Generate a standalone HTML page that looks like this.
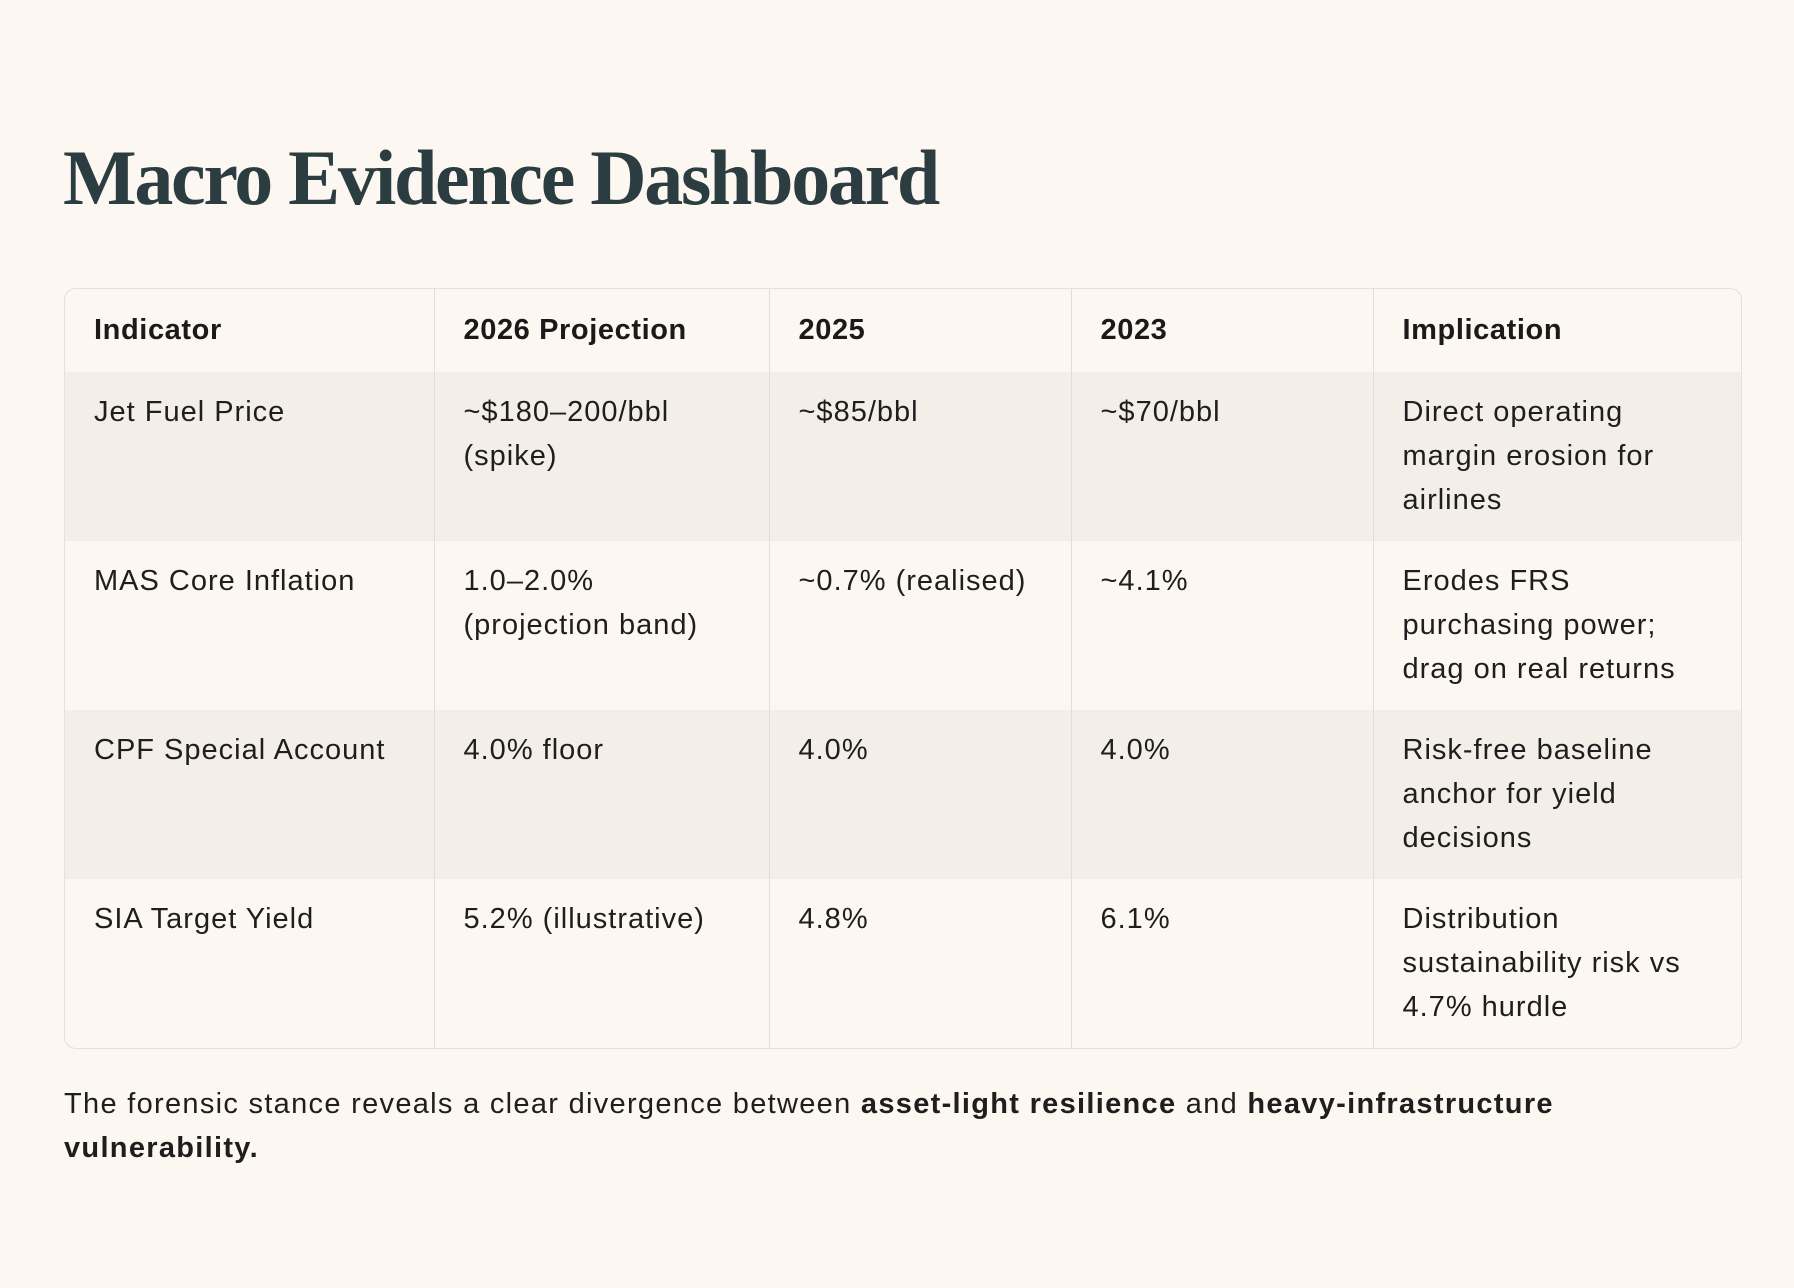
<!DOCTYPE html>
<html><head><meta charset="utf-8"><style>
html,body{margin:0;padding:0;background:#fdf7f1;}
body{width:1794px;height:1288px;position:relative;overflow:hidden;font-family:"Liberation Sans",sans-serif;color:#1e1e1e;}
h1{position:absolute;left:63px;top:128px;margin:0;font-family:"Liberation Serif",serif;font-weight:bold;font-size:78px;line-height:100px;letter-spacing:-2.3px;color:#2b3d40;white-space:nowrap;}
.tbl{position:absolute;left:64px;top:288px;width:1678px;height:761px;border:1px solid #e6e0da;border-radius:12px;overflow:hidden;box-sizing:border-box;}
table{border-collapse:collapse;width:100%;table-layout:fixed;}
td,th{vertical-align:top;text-align:left;padding:18px 10px 0 29px;font-size:29px;line-height:44px;border-left:1px solid #e3ddd7;box-sizing:border-box;white-space:nowrap;letter-spacing:1px;}
td:first-child,th:first-child{border-left:none;}
th{height:83px;font-weight:bold;padding-top:19px;color:#1a1a1a;letter-spacing:0.6px;}
tr.alt td{background:#f4eee8;}
tr.r td{height:169px;}
p{position:absolute;left:64px;top:1082px;width:1700px;margin:0;font-size:29px;line-height:44px;color:#1e1e1e;letter-spacing:1.3px;white-space:nowrap;}
</style></head><body>
<h1>Macro Evidence Dashboard</h1>
<div class="tbl">
<table>
<colgroup><col style="width:369px"><col style="width:335px"><col style="width:302px"><col style="width:302px"><col></colgroup>
<tr><th>Indicator</th><th>2026 Projection</th><th>2025</th><th>2023</th><th>Implication</th></tr>
<tr class="r alt"><td>Jet Fuel Price</td><td>~$180–200/bbl<br>(spike)</td><td>~$85/bbl</td><td>~$70/bbl</td><td>Direct operating<br>margin erosion for<br>airlines</td></tr>
<tr class="r"><td>MAS Core Inflation</td><td>1.0–2.0%<br>(projection band)</td><td>~0.7% (realised)</td><td>~4.1%</td><td>Erodes FRS<br>purchasing power;<br>drag on real returns</td></tr>
<tr class="r alt"><td>CPF Special Account</td><td>4.0% floor</td><td>4.0%</td><td>4.0%</td><td>Risk-free baseline<br>anchor for yield<br>decisions</td></tr>
<tr class="r"><td>SIA Target Yield</td><td>5.2% (illustrative)</td><td>4.8%</td><td>6.1%</td><td>Distribution<br>sustainability risk vs<br>4.7% hurdle</td></tr>
</table>
</div>
<p>The forensic stance reveals a clear divergence between <b>asset-light resilience</b> and <b>heavy-infrastructure</b><br><b>vulnerability.</b></p>
</body></html>
